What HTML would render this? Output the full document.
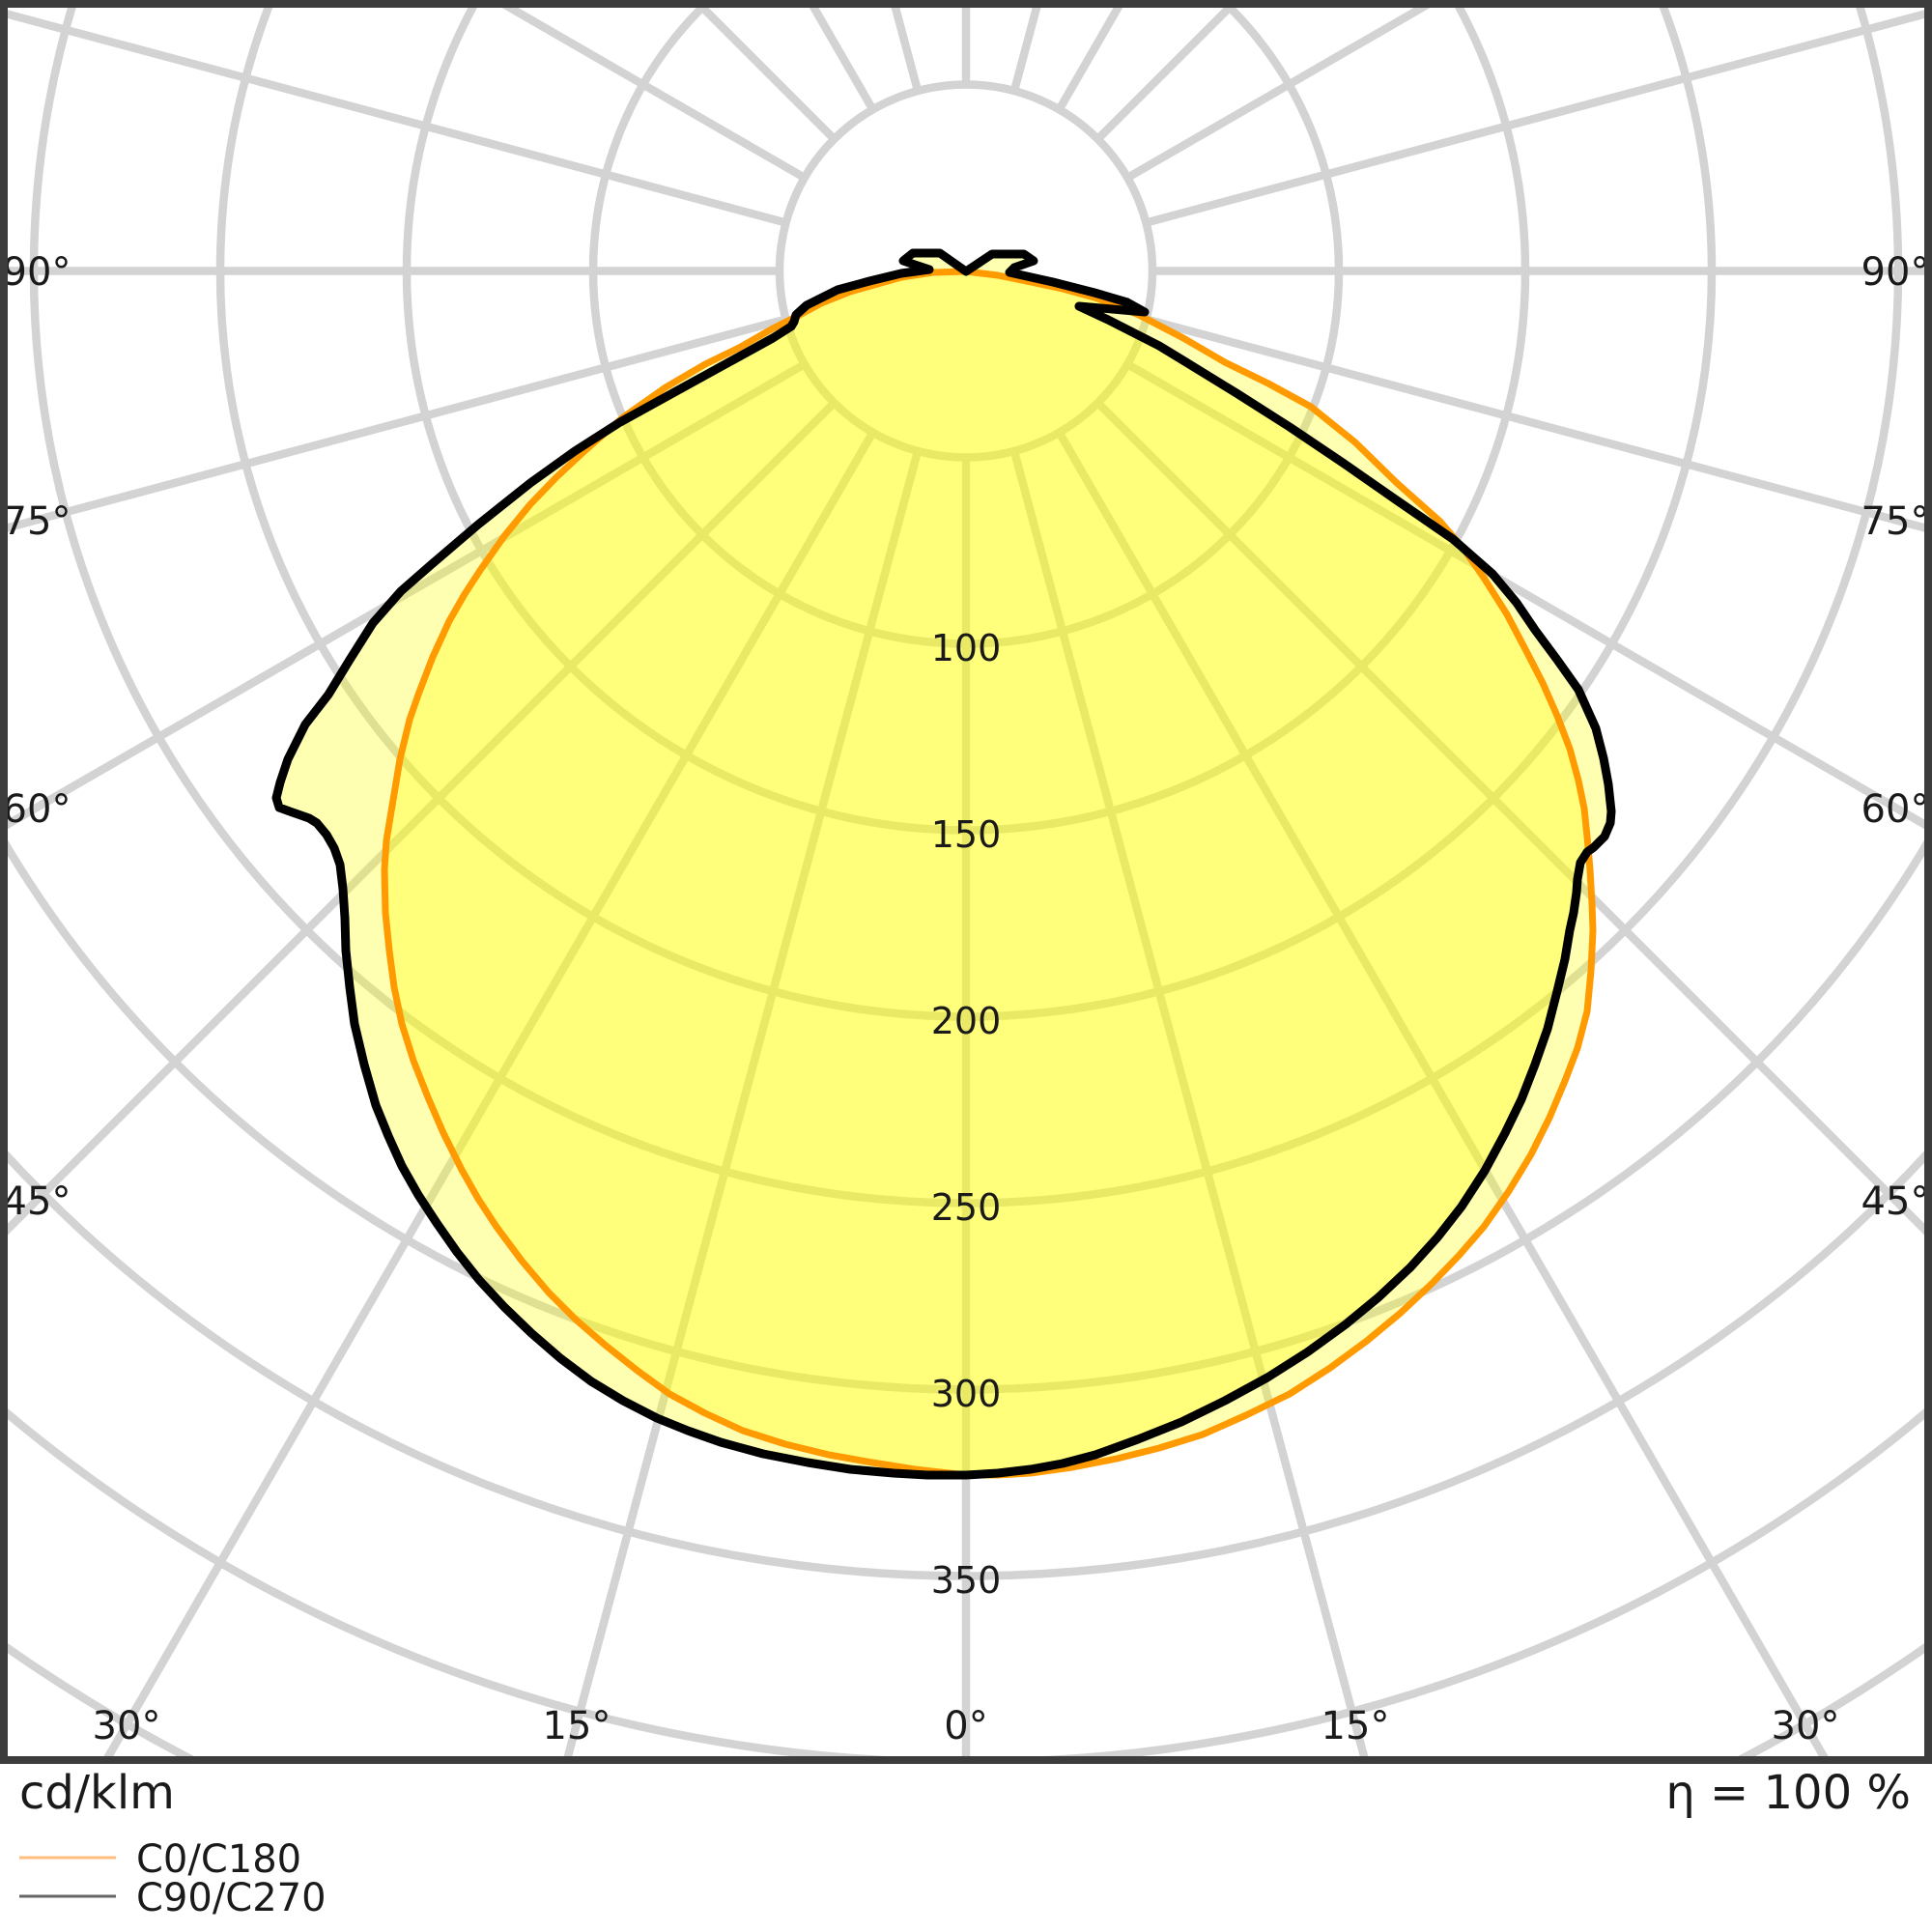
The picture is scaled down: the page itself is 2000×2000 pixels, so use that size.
<!DOCTYPE html>
<html>
<head>
<meta charset="utf-8">
<style>
html,body{margin:0;padding:0;background:#fff;width:2000px;height:2000px;overflow:hidden;}
svg{display:block;position:absolute;left:0;top:0;}
text{font-family:"DejaVu Sans","Liberation Sans",sans-serif;fill:#1a1a1a;}
</style>
</head>
<body>
<svg width="2000" height="2000" viewBox="0 0 2000 2000" xmlns="http://www.w3.org/2000/svg">
<defs>
<clipPath id="frame"><rect x="4" y="4" width="1992" height="1818"/></clipPath>
</defs>
<rect x="0" y="0" width="2000" height="2000" fill="#fff"/>
<g clip-path="url(#frame)">
  <g fill="none" stroke="#d3d3d3" stroke-width="8.5">
    <path d="M-5,1697.2 A1737,1737 0 0 0 215,1830"/>
    <path d="M1785,1830 A1737,1737 0 0 0 2005,1697.2"/>
  </g>
  <g transform="translate(1000 280.5)" fill="none" stroke="#d3d3d3" stroke-width="8.5">
    <circle r="193"/><circle r="386"/><circle r="579"/><circle r="772"/><circle r="965"/>
    <circle r="1158"/><circle r="1351"/><circle r="1544"/>
    <g>
      <line x1="0" y1="193" x2="0" y2="1545" transform="rotate(0)"/>
      <line x1="0" y1="193" x2="0" y2="1600" transform="rotate(15)"/>
      <line x1="0" y1="193" x2="0" y2="1785" transform="rotate(30)"/>
      <line x1="0" y1="193" x2="0" y2="1416" transform="rotate(45)"/>
      <line x1="0" y1="193" x2="0" y2="1157" transform="rotate(60)"/>
      <line x1="0" y1="193" x2="0" y2="1037" transform="rotate(75)"/>
      <line x1="0" y1="193" x2="0" y2="1002" transform="rotate(90)"/>
      <line x1="0" y1="193" x2="0" y2="1037" transform="rotate(105)"/>
      <line x1="0" y1="193" x2="0" y2="563" transform="rotate(120)"/>
      <line x1="0" y1="193" x2="0" y2="399" transform="rotate(135)"/>
      <line x1="0" y1="193" x2="0" y2="326" transform="rotate(150)"/>
      <line x1="0" y1="193" x2="0" y2="292" transform="rotate(165)"/>
      <line x1="0" y1="193" x2="0" y2="283" transform="rotate(180)"/>
      <line x1="0" y1="193" x2="0" y2="292" transform="rotate(195)"/>
      <line x1="0" y1="193" x2="0" y2="326" transform="rotate(210)"/>
      <line x1="0" y1="193" x2="0" y2="399" transform="rotate(225)"/>
      <line x1="0" y1="193" x2="0" y2="563" transform="rotate(240)"/>
      <line x1="0" y1="193" x2="0" y2="1037" transform="rotate(255)"/>
      <line x1="0" y1="193" x2="0" y2="1002" transform="rotate(270)"/>
      <line x1="0" y1="193" x2="0" y2="1037" transform="rotate(285)"/>
      <line x1="0" y1="193" x2="0" y2="1157" transform="rotate(300)"/>
      <line x1="0" y1="193" x2="0" y2="1416" transform="rotate(315)"/>
      <line x1="0" y1="193" x2="0" y2="1785" transform="rotate(330)"/>
      <line x1="0" y1="193" x2="0" y2="1600" transform="rotate(345)"/>
    </g>
  </g>

  <!-- orange fill -->
  <path d="M1000,281 L1033,285 L1067,292 L1100,299 L1133,308 L1160,318 L1179,326 L1225,350 L1268,375 L1313,397 L1357,421 L1403,458 L1446,500 L1491,540 L1515,568 L1536,598 L1560,636 L1580,674 L1597,707 L1612,741 L1625,775 L1634,808 L1640,837 L1643,866 L1646,900 L1648,935 L1649,963 L1647,1005 L1643,1047 L1633,1085 L1620,1119 L1604,1157 L1585,1195 L1562,1233 L1536,1270 L1510,1300 L1482,1329 L1450,1359 L1415,1388 L1377,1416 L1335,1443 L1290,1465 L1245,1485 L1200,1499 L1156,1510 L1110,1519 L1067,1525 L1033,1527 L1000,1527 L947,1521 L903,1514 L858,1506 L813,1495 L769,1481 L730,1463 L693,1443 L660,1419 L626,1392 L596,1366 L568,1338 L540,1305 L514,1270 L495,1241 L478,1211 L459,1173 L443,1136 L428,1098 L416,1060 L408,1022 L403,984 L399,945 L398,900 L400,870 L405,840 L414,786 L424,745 L433,719 L448,680 L465,643 L481,615 L498,589 L522,555 L549,522 L576,494 L605,467 L645,432 L689,401 L730,377 L765,360 L800,340 L824,328 L850,314 L880,302 L933,287 L966,282 Z" fill="#ffff00" fill-opacity="0.3" stroke="none"/>

  <!-- black fill -->
  <path d="M1000,281 L1027,263 L1060,263 L1070,270 L1050,277 L1045,282 L1090,292 L1133,303 L1167,313 L1185,323 L1117,317 L1147,331 L1200,358 L1223,372 L1280,407 L1335,442 L1390,479 L1446,518 L1504,558 L1545,594 L1570,624 L1589,652 L1612,683 L1634,714 L1652,754 L1660,785 L1665,812 L1668,840 L1667,852 L1661,866 L1650,877 L1643,882 L1636,893 L1633,910 L1632,924 L1629,945 L1625,963 L1620,993 L1612,1026 L1602,1065 L1589,1102 L1575,1138 L1558,1173 L1537,1212 L1513,1249 L1488,1281 L1460,1312 L1427,1343 L1393,1371 L1353,1400 L1312,1426 L1268,1450 L1223,1472 L1178,1490 L1134,1506 L1100,1515 L1067,1521 L1033,1525 L1000,1527 L960,1527 L925,1525 L880,1521 L836,1514 L790,1505 L746,1493 L712,1481 L680,1468 L645,1450 L612,1430 L580,1406 L550,1380 L522,1353 L496,1325 L473,1296 L452,1266 L433,1237 L416,1207 L402,1176 L389,1144 L377,1102 L367,1060 L362,1022 L358,984 L357,950 L355,920 L352,895 L346,878 L338,864 L328,852 L320,847 L300,840 L289,836 L286,826 L290,810 L298,786 L316,750 L340,719 L362,683 L386,645 L415,612 L447,584 L495,543 L549,500 L595,467 L642,437 L700,405 L760,372 L800,350 L819,338 L822,333 L824,326 L835,316 L867,300 L900,291 L933,283 L962,279 L935,270 L945,262 L973,262 Z" fill="#ffff00" fill-opacity="0.3" stroke="none"/>

  <!-- orange stroke -->
  <path d="M1000,281 L1033,285 L1067,292 L1100,299 L1133,308 L1160,318 L1179,326 L1225,350 L1268,375 L1313,397 L1357,421 L1403,458 L1446,500 L1491,540 L1515,568 L1536,598 L1560,636 L1580,674 L1597,707 L1612,741 L1625,775 L1634,808 L1640,837 L1643,866 L1646,900 L1648,935 L1649,963 L1647,1005 L1643,1047 L1633,1085 L1620,1119 L1604,1157 L1585,1195 L1562,1233 L1536,1270 L1510,1300 L1482,1329 L1450,1359 L1415,1388 L1377,1416 L1335,1443 L1290,1465 L1245,1485 L1200,1499 L1156,1510 L1110,1519 L1067,1525 L1033,1527 L1000,1527 L947,1521 L903,1514 L858,1506 L813,1495 L769,1481 L730,1463 L693,1443 L660,1419 L626,1392 L596,1366 L568,1338 L540,1305 L514,1270 L495,1241 L478,1211 L459,1173 L443,1136 L428,1098 L416,1060 L408,1022 L403,984 L399,945 L398,900 L400,870 L405,840 L414,786 L424,745 L433,719 L448,680 L465,643 L481,615 L498,589 L522,555 L549,522 L576,494 L605,467 L645,432 L689,401 L730,377 L765,360 L800,340 L824,328 L850,314 L880,302 L933,287 L966,282 Z" fill="none" stroke="#ff9a00" stroke-width="7" stroke-linejoin="round"/>

  <!-- black stroke -->
  <path d="M1000,281 L1027,263 L1060,263 L1070,270 L1050,277 L1045,282 L1090,292 L1133,303 L1167,313 L1185,323 L1117,317 L1147,331 L1200,358 L1223,372 L1280,407 L1335,442 L1390,479 L1446,518 L1504,558 L1545,594 L1570,624 L1589,652 L1612,683 L1634,714 L1652,754 L1660,785 L1665,812 L1668,840 L1667,852 L1661,866 L1650,877 L1643,882 L1636,893 L1633,910 L1632,924 L1629,945 L1625,963 L1620,993 L1612,1026 L1602,1065 L1589,1102 L1575,1138 L1558,1173 L1537,1212 L1513,1249 L1488,1281 L1460,1312 L1427,1343 L1393,1371 L1353,1400 L1312,1426 L1268,1450 L1223,1472 L1178,1490 L1134,1506 L1100,1515 L1067,1521 L1033,1525 L1000,1527 L960,1527 L925,1525 L880,1521 L836,1514 L790,1505 L746,1493 L712,1481 L680,1468 L645,1450 L612,1430 L580,1406 L550,1380 L522,1353 L496,1325 L473,1296 L452,1266 L433,1237 L416,1207 L402,1176 L389,1144 L377,1102 L367,1060 L362,1022 L358,984 L357,950 L355,920 L352,895 L346,878 L338,864 L328,852 L320,847 L300,840 L289,836 L286,826 L290,810 L298,786 L316,750 L340,719 L362,683 L386,645 L415,612 L447,584 L495,543 L549,500 L595,467 L642,437 L700,405 L760,372 L800,350 L819,338 L822,333 L824,326 L835,316 L867,300 L900,291 L933,283 L962,279 L935,270 L945,262 L973,262 Z" fill="none" stroke="#000" stroke-width="9" stroke-linejoin="round"/>

  <!-- ring labels -->
  <g font-size="38" text-anchor="middle">
    <text x="1000" y="684">100</text>
    <text x="1000" y="877">150</text>
    <text x="1000" y="1070">200</text>
    <text x="1000" y="1263">250</text>
    <text x="1000" y="1456">300</text>
    <text x="1000" y="1649">350</text>
  </g>

  <!-- angle labels -->
  <g font-size="40" text-anchor="middle">
    <text x="38" y="295">90°</text>
    <text x="1962" y="295">90°</text>
    <text x="38" y="553">75°</text>
    <text x="1962" y="553">75°</text>
    <text x="38" y="851">60°</text>
    <text x="1962" y="851">60°</text>
    <text x="38" y="1257">45°</text>
    <text x="1962" y="1257">45°</text>
    <text x="131" y="1800">30°</text>
    <text x="597" y="1800">15°</text>
    <text x="1000" y="1800">0°</text>
    <text x="1403" y="1800">15°</text>
    <text x="1869" y="1800">30°</text>
  </g>
</g>

<!-- frame -->
<rect x="4" y="4" width="1992" height="1818" fill="none" stroke="#3c3c3c" stroke-width="8"/>

<!-- bottom texts -->
<text x="20" y="1872" font-size="48">cd/klm</text>
<text x="1978" y="1872" font-size="48" text-anchor="end">η = 100 %</text>

<line x1="20" y1="1923" x2="120" y2="1923" stroke="#ffbe80" stroke-width="3"/>
<text x="141" y="1938" font-size="40">C0/C180</text>
<line x1="20" y1="1963" x2="120" y2="1963" stroke="#666666" stroke-width="3"/>
<text x="141" y="1978" font-size="40">C90/C270</text>
</svg>
</body>
</html>
